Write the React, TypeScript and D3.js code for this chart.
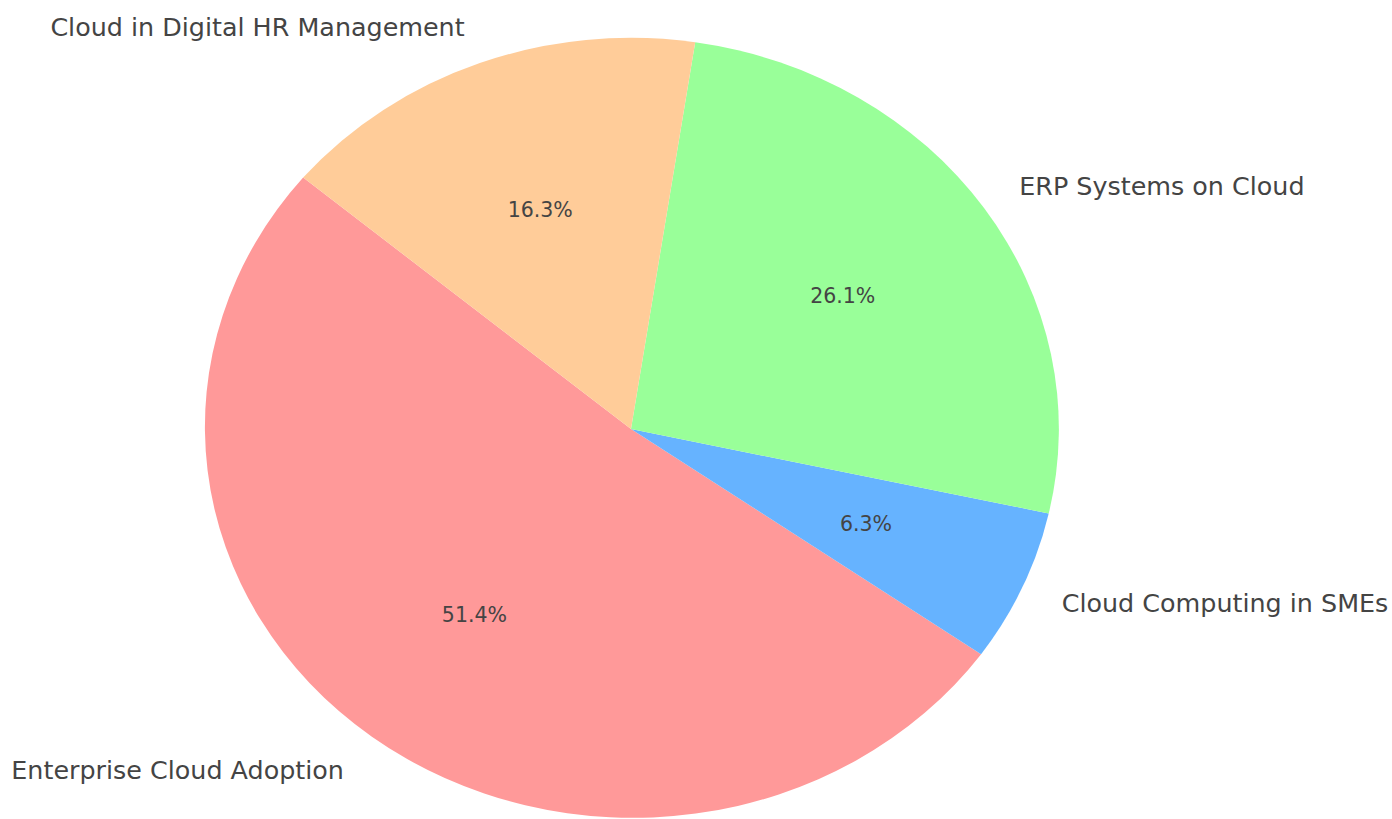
import React from "react";
import * as d3 from "d3";

const categories = [
  "Enterprise Cloud Adoption",
  "Cloud Computing in SMEs",
  "ERP Systems on Cloud",
  "Cloud in Digital HR Management",
];
const values = [51.4, 6.3, 26.1, 16.3];
const colors = ["#ff9999", "#66b3ff", "#99ff99", "#ffcc99"];

const W = 1392;
const H = 819;
const CX = 631;
const CY = 429;
const RX = 428;
const RY = 391;
const START_DEG = 140;

export default function App() {
  const pie = d3
    .pie<number>()
    .sort(null)
    .value((d) => d)
    .startAngle(0)
    .endAngle(2 * Math.PI);
  const arcs = pie(values);
  const arc = d3.arc<any>().innerRadius(0).outerRadius(1);
  const toRad = (deg: number) => (deg * Math.PI) / 180;
  const start = toRad(START_DEG);

  return (
    <svg
      width={W}
      height={H}
      style={{ position: "absolute", left: 0, top: 0, background: "#fff" }}
      fontFamily="DejaVu Sans"
    >
      <g transform={`translate(${CX},${CY})`}>
        {arcs.map((a, i) => {
          const t0 = start + a.startAngle;
          const t1 = start + a.endAngle;
          const path = arc({
            startAngle: Math.PI / 2 - t0,
            endAngle: Math.PI / 2 - t1,
          });
          return (
            <path
              key={categories[i]}
              d={path || ""}
              fill={colors[i]}
              transform={`scale(${RX},${RY})`}
            />
          );
        })}
        {arcs.map((a, i) => {
          const tm = start + (a.startAngle + a.endAngle) / 2;
          const cx = Math.cos(tm);
          const cy = -Math.sin(tm);
          const lx = 1.1 * RX * cx;
          const ly = 1.1 * RY * cy;
          const px = 0.6 * RX * cx;
          const py = 0.6 * RY * cy;
          return (
            <g key={"t" + i}>
              <text
                x={lx}
                y={ly}
                textAnchor={cx < 0 ? "end" : "start"}
                dominantBaseline="central"
                fontSize={25.4}
                fill="#444"
              >
                {categories[i]}
              </text>
              <text
                x={px}
                y={py}
                textAnchor="middle"
                dominantBaseline="central"
                fontSize={20.5}
                fill="#444"
              >
                {values[i].toFixed(1) + "%"}
              </text>
            </g>
          );
        })}
      </g>
    </svg>
  );
}
